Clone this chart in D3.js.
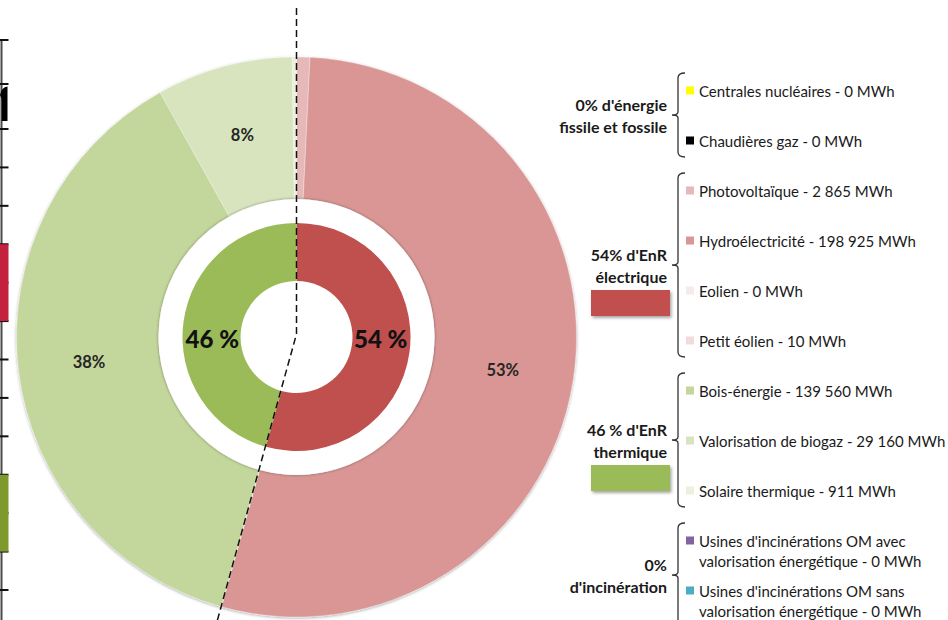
<!DOCTYPE html>
<html>
<head>
<meta charset="utf-8">
<script src="https://cdn.jsdelivr.net/npm/d3@7"></script>
<style>
  body { margin: 0; background: #fff; }
  svg { display: block; }
</style>
</head>
<body>
<svg id="chart" width="948" height="620"></svg>
<script>
// ---- Data -------------------------------------------------------------
// Renewable production by source (MWh), ring order, clockwise from 12 o'clock
const sources = ["Photovoltaïque", "Hydroélectricité", "Eolien", "Petit éolien",
                 "Bois-énergie", "Valorisation de biogaz", "Solaire thermique"];
const production = [2865, 198925, 0, 10, 139560, 29160, 911];
const sourceColors = ["#E6B9B8", "#D99694", "#F7EAEA", "#F2DCDB",
                      "#C3D69B", "#D7E4BD", "#EBF1DE"];
const shareLabels = ["", "53%", "", "", "38%", "8%", ""];

// Families: first four sources are electric, last three thermal
const familyNames = ["EnR électrique", "EnR thermique"];
const familySize = [4, 3];
const familyColors = ["#C0504D", "#9BBB59"];

// Sources that produce nothing here (legend only)
const fossilSources = ["Centrales nucléaires", "Chaudières gaz"];
const fossilProduction = [0, 0];
const fossilColors = ["#FFFF00", "#000000"];
const incinerationSources = ["Usines d'incinérations OM avec|valorisation énergétique",
                             "Usines d'incinérations OM sans|valorisation énergétique"];
const incinerationProduction = [0, 0];
const incinerationColors = ["#8064A2", "#4BACC6"];

const groupTitles = [["0% d'énergie", "fissile et fossile"],
                     ["54% d'EnR", "électrique"],
                     ["46 % d'EnR", "thermique"],
                     ["0%", "d'incinération"]];

// Neighbouring table border (cut off at the left edge)
const sideRows = d3.range(15);
const sideBlocks = [{ from: 5, to: 7, color: "#C3213D" }, { from: 11, to: 13, color: "#7E9A2E" }];

// ---- Setup ------------------------------------------------------------
const svg = d3.select("#chart");
const cx = 296.5, cy = 337;
const defs = svg.append("defs");
function addShadow(id, dx, dy, sd, op) {
  const f = defs.append("filter").attr("id", id)
    .attr("x", "-30%").attr("y", "-30%").attr("width", "160%").attr("height", "160%");
  f.append("feDropShadow").attr("dx", dx).attr("dy", dy)
    .attr("stdDeviation", sd).attr("flood-color", "#000").attr("flood-opacity", op);
}
addShadow("ringShadow", 0, 1, 1.6, 0.35);
addShadow("discShadow", 0, 0, 1.8, 0.45);
addShadow("boxShadow", 1.5, 2, 1.5, 0.35);

const frNum = d3.formatLocale({ decimal: ",", thousands: "\u00a0", grouping: [3], currency: ["", " €"] }).format(",d");

// ---- Neighbouring table border ---------------------------------------
const sideY = d3.scaleLinear().domain([0, 1, 2, 14]).range([40, 84, 129, 590]);
const side = svg.append("g");
side.append("line").attr("x1", 1.5).attr("x2", 1.5)
  .attr("y1", sideY(0)).attr("y2", 620).attr("stroke", "#4a4a4a").attr("stroke-width", 2);
side.selectAll("line.tick").data(sideRows).join("line").attr("class", "tick")
  .attr("x1", 0).attr("x2", 8.5)
  .attr("y1", d => sideY(d)).attr("y2", d => sideY(d))
  .attr("stroke", "#111").attr("stroke-width", 2);
side.selectAll("rect").data(sideBlocks).join("rect")
  .attr("x", 0).attr("width", 8.5)
  .attr("y", d => sideY(d.from)).attr("height", d => sideY(d.to) - sideY(d.from))
  .attr("fill", d => d.color);
// edge of a heading glyph from the neighbouring table
side.append("path")
  .attr("d", "M0,95 Q1.5,87 7.5,86.5 L7.5,121 L1.8,121 L1.8,99 Z")
  .attr("fill", "#000");

// ---- Outer ring: sources ---------------------------------------------
const pie = d3.pie().sort(null).value(d => d);
const outerArcs = pie(production);
const outerArc = d3.arc().innerRadius(138).outerRadius(280);

const chart = svg.append("g").attr("transform", `translate(${cx},${cy})`);
chart.append("g").attr("filter", "url(#ringShadow)")
  .selectAll("path").data(outerArcs).join("path")
  .attr("d", outerArc)
  .attr("fill", (d, i) => sourceColors[i])
  .attr("stroke", "#ffffff").attr("stroke-opacity", 0.45).attr("stroke-width", 0.7);

chart.selectAll("text.share").data(outerArcs).join("text").attr("class", "share")
  .attr("x", d => outerArc.centroid(d)[0])
  .attr("y", d => outerArc.centroid(d)[1])
  .attr("text-anchor", "middle").attr("dominant-baseline", "central")
  .attr("font-family", "Lato, 'Open Sans', sans-serif").attr("font-weight", "bold")
  .attr("font-size", 16.5).attr("fill", "#262626")
  .text((d, i) => shareLabels[i]);

// White disc separating the two rings
chart.append("circle").attr("r", 138).attr("fill", "#fff").attr("filter", "url(#discShadow)");

// ---- Inner ring: families --------------------------------------------
const familyTotals = familySize.map((n, k) => {
  const start = d3.sum(familySize.slice(0, k));
  return d3.sum(production.slice(start, start + n));
});
const grand = d3.sum(familyTotals);
const innerArcs = pie(familyTotals);
const innerArc = d3.arc().innerRadius(56).outerRadius(114);

chart.selectAll("path.family").data(innerArcs).join("path").attr("class", "family")
  .attr("d", innerArc)
  .attr("fill", (d, i) => familyColors[i]);

chart.selectAll("text.family").data(innerArcs).join("text").attr("class", "family")
  .attr("x", d => innerArc.centroid(d)[0])
  .attr("y", 1)
  .attr("text-anchor", "middle").attr("dominant-baseline", "central")
  .attr("font-family", "Lato, 'Open Sans', sans-serif").attr("font-weight", "900")
  .attr("font-size", 24).attr("fill", "#111")
  .text(d => Math.round(d.data / grand * 100) + " %");

// Dashed split line: from the top, through the centre, along the family boundary
const split = innerArcs[0].endAngle;
const splitPath = d3.path();
splitPath.moveTo(0, -329);
splitPath.lineTo(0, -3);
splitPath.lineTo(330 * Math.sin(split), -330 * Math.cos(split));
chart.append("path").attr("d", splitPath.toString())
  .attr("fill", "none").attr("stroke", "#111").attr("stroke-width", 1.5)
  .attr("stroke-dasharray", "7,4");

// ---- Legend -----------------------------------------------------------
const groups = [
  { names: fossilSources, values: fossilProduction, colors: fossilColors },
  { names: sources.slice(0, 4), values: production.slice(0, 4), colors: sourceColors.slice(0, 4), family: 0 },
  { names: sources.slice(4), values: production.slice(4), colors: sourceColors.slice(4), family: 1 },
  { names: incinerationSources, values: incinerationProduction, colors: incinerationColors }
];
const rowY = d3.scaleLinear().domain([0, 10]).range([91, 591]);
const legend = svg.append("g")
  .attr("font-family", "Lato, 'Open Sans', sans-serif").attr("fill", "#1a1a1a");

let row = 0;
groups.forEach((g, gi) => {
  const first = row, last = row + g.names.length - 1;
  const lastLines = g.names[g.names.length - 1].split("|").length;
  const top = rowY(first) - 18;
  const bottom = rowY(last) + 16 + (lastLines - 1) * 20;
  const mid = (top + bottom) / 2;
  const bx = 678;

  // curly bracket
  const p = d3.path();
  p.moveTo(bx + 7, top);
  p.quadraticCurveTo(bx, top, bx, top + 5);
  p.lineTo(bx, mid - 3);
  p.quadraticCurveTo(bx, mid, bx - 6, mid);
  p.quadraticCurveTo(bx, mid, bx, mid + 3);
  p.lineTo(bx, bottom - 5);
  p.quadraticCurveTo(bx, bottom, bx + 7, bottom);
  legend.append("path").attr("d", p.toString())
    .attr("fill", "none").attr("stroke", "#333").attr("stroke-width", 1.3);

  // group title
  legend.append("text").attr("x", 667).attr("y", mid - 10.5)
    .attr("text-anchor", "end").attr("dominant-baseline", "central")
    .attr("font-weight", "bold").attr("font-size", 16).text(groupTitles[gi][0]);
  legend.append("text").attr("x", 667).attr("y", mid + 11.5)
    .attr("text-anchor", "end").attr("dominant-baseline", "central")
    .attr("font-weight", "bold").attr("font-size", 16).text(groupTitles[gi][1]);

  if (g.family !== undefined) {
    legend.append("rect").attr("x", 591).attr("y", mid + 25)
      .attr("width", 79).attr("height", 26)
      .attr("fill", familyColors[g.family]).attr("filter", "url(#boxShadow)");
  }

  // items
  g.names.forEach((name, k) => {
    const y = rowY(row);
    legend.append("rect").attr("x", 686).attr("y", y - 4.5).attr("width", 8).attr("height", 8)
      .attr("fill", g.colors[k]);
    const lines = name.split("|");
    lines[lines.length - 1] += " - " + frNum(g.values[k]) + " MWh";
    lines.forEach((ln, li) => {
      legend.append("text").attr("x", 699).attr("y", y + li * 20)
        .attr("dominant-baseline", "central").attr("font-size", 15).text(ln);
    });
    row++;
  });
});
</script>
</body>
</html>
